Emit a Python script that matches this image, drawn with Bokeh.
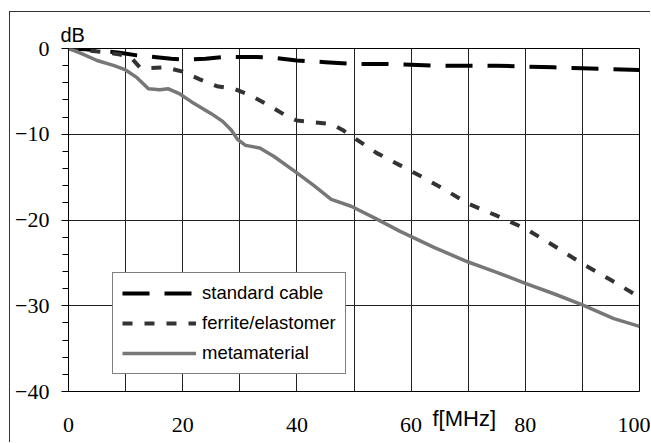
from bokeh.plotting import figure
from bokeh.models import Range1d, FixedTicker, Legend, LegendItem, Title
from bokeh.embed import file_html
from bokeh.resources import INLINE

# ---- data ----
std_f = [0, 3, 6, 9, 12, 15, 18, 21, 24, 27, 30, 33, 36, 40, 45, 50, 55, 60,
         65, 70, 75, 80, 85, 90, 95, 100]
std_db = [0, -0.1, -0.3, -0.5, -0.8, -1.0, -1.2, -1.3, -1.2, -1.0, -1.0, -1.0,
          -1.1, -1.4, -1.6, -1.8, -1.8, -1.9, -2.0, -2.0, -2.0, -2.1, -2.2,
          -2.3, -2.4, -2.5]

fer_f = [0, 3, 6, 9, 11, 12.5, 14, 17, 20, 23, 26, 29, 32, 35, 38, 40, 43, 46,
         48, 50, 54, 58, 62, 66, 70, 75, 80, 85, 90, 95, 100]
fer_db = [0, -0.2, -0.4, -0.7, -1.1, -2.2, -2.3, -2.2, -2.7, -3.6, -4.4, -4.7,
          -5.5, -6.6, -7.8, -8.4, -8.6, -8.8, -9.5, -10.4, -12.2, -13.6, -15.0,
          -16.5, -18.1, -19.5, -21.0, -23.0, -25.1, -27.0, -29.0]

met_f = [0, 2, 5, 8, 10, 12, 14, 16, 17.5, 19.5, 21.5, 25, 27, 28.5, 29.6, 31,
         33.5, 36, 40, 43, 46, 49.5, 54, 58, 64, 70, 75, 80, 85, 90, 95.5, 100]
met_db = [0, -0.5, -1.4, -2.0, -2.5, -3.4, -4.7, -4.8, -4.7, -5.3, -6.2, -7.6,
          -8.5, -9.5, -10.6, -11.3, -11.6, -12.6, -14.5, -16.0, -17.6, -18.4,
          -19.9, -21.3, -23.2, -24.9, -26.1, -27.4, -28.6, -29.9, -31.5, -32.4]

series_names = ["standard cable", "ferrite/elastomer", "metamaterial"]
x_ticks = [0, 20, 40, 60, 80, 100]
x_grid = [10, 20, 30, 40, 50, 60, 70, 80, 90, 100]
y_ticks = [-40, -30, -20, -10, 0]
y_minor = [-38, -36, -34, -32, -28, -26, -24, -22, -18, -16, -14, -12,
           -8, -6, -4, -2]
y_labels = {-40: "\u221240", -30: "\u221230", -20: "\u221220", -10: "\u221210", 0: "0"}
x_title = "f[MHz]"
y_title = "dB"

SERIF = "Liberation Serif"
SANS = "Liberation Sans"

p = figure(width=641, height=431, output_backend="svg", toolbar_location=None,
           x_range=Range1d(0, 100), y_range=Range1d(-40, 0),
           min_border_left=58, min_border_right=12, min_border_top=36,
           min_border_bottom=52)
p.styles = {"margin-left": "9px", "margin-top": "11px",
            "border-left": "1px solid #333", "border-top": "1px solid #333"}
p.background_fill_color = "white"
p.border_fill_color = "white"
p.outline_line_color = "black"
p.outline_line_width = 1

# x axis (its line is hidden; the frame outline draws the bottom edge)
xa = p.xaxis[0]
xa.ticker = FixedTicker(ticks=x_ticks)
xa.major_tick_out = 0
xa.major_tick_in = 0
xa.minor_tick_out = 0
xa.minor_tick_in = 0
xa.axis_line_color = None
xa.major_label_text_font = SERIF
xa.major_label_text_font_size = "22px"
xa.major_label_text_color = "black"
xa.major_label_standoff = -26

# y axis
ya = p.yaxis[0]
ya.ticker = FixedTicker(ticks=y_ticks, minor_ticks=y_minor)
ya.major_label_overrides = y_labels
ya.major_tick_out = 7
ya.major_tick_in = 0
ya.minor_tick_out = 6
ya.minor_tick_in = 0
ya.axis_line_color = "black"
ya.major_tick_line_color = "black"
ya.minor_tick_line_color = "black"
ya.major_tick_line_width = 1
ya.minor_tick_line_width = 1
ya.major_label_text_font = SERIF
ya.major_label_text_font_size = "22px"
ya.major_label_text_color = "black"
ya.major_label_standoff = 12

p.xgrid.ticker = FixedTicker(ticks=x_grid)
p.ygrid.ticker = FixedTicker(ticks=y_ticks)
p.xgrid.grid_line_color = "#222222"
p.ygrid.grid_line_color = "#222222"
p.xgrid.grid_line_width = 1
p.ygrid.grid_line_width = 1

r1 = p.line(std_f, std_db, line_color="black", line_width=4, line_dash="27 15")
r2 = p.line(fer_f, fer_db, line_color="#333333", line_width=4, line_dash="10 12")
r3 = p.line(met_f, met_db, line_color="#777777", line_width=3.5)

legend = Legend(items=[LegendItem(label=series_names[0], renderers=[r1]),
                       LegendItem(label=series_names[1], renderers=[r2]),
                       LegendItem(label=series_names[2], renderers=[r3])],
                location=(44, 17))
legend.label_text_font = SANS
legend.label_text_font_size = "18.5px"
legend.label_text_color = "black"
legend.glyph_width = 74
legend.glyph_height = 22
legend.label_height = 22
legend.label_standoff = 6
legend.spacing = 8
legend.padding = 9
legend.margin = 0
legend.border_line_color = "black"
legend.border_line_width = 1
legend.background_fill_color = "white"
legend.background_fill_alpha = 1
p.add_layout(legend)

t_y = Title(text=y_title, align="left", offset=-8, standoff=6,
            text_font=SANS, text_font_size="20px", text_font_style="normal",
            text_color="black")
p.add_layout(t_y, "above")
t_x = Title(text=x_title, align="left", offset=364, standoff=25,
            text_font=SANS, text_font_size="22px", text_font_style="normal",
            text_color="black")
p.add_layout(t_x, "below")
p.below = [t_x, xa]

open("out.html", "w").write(file_html(p, INLINE))
